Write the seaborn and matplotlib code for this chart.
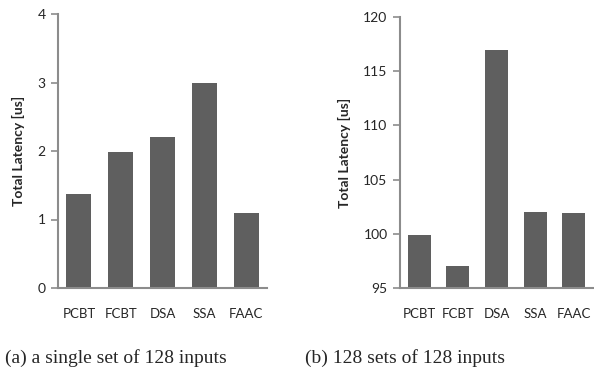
import matplotlib
matplotlib.use("Agg")
import matplotlib.pyplot as plt
import seaborn as sns
import pandas as pd

categories = ["PCBT", "FCBT", "DSA", "SSA", "FAAC"]
single_set = [1.37, 1.99, 2.2, 3.0, 1.09]
sets_128 = [99.9, 97.0, 117.0, 102.0, 101.9]
left_ticks = [0, 1, 2, 3, 4]
right_ticks = [95, 100, 105, 110, 115, 120]
ylabel = "Total Latency [us]"
captions = ["(a) a single set of 128 inputs", "(b) 128 sets of 128 inputs"]

sns.set_style("white")
plt.rcParams['font.family'] = ['Lato', 'DejaVu Sans']

W, H = 594, 378
fig = plt.figure(figsize=(W / 100, H / 100), dpi=100)

bar_color = "#5f5f5f"
axis_color = "#8c8c8c"

def make_ax(left, top, right, bottom):
    return fig.add_axes([left / W, 1 - bottom / H, (right - left) / W, (bottom - top) / H])

ax1 = make_ax(58, 14, 267, 288)
ax2 = make_ax(400, 17, 593, 288)

df1 = pd.DataFrame({"cat": categories, "val": single_set})
df2 = pd.DataFrame({"cat": categories, "val": sets_128})

for ax, df, ticks in [(ax1, df1, left_ticks), (ax2, df2, right_ticks)]:
    sns.barplot(data=df, x="cat", y="val", color=bar_color, saturation=1,
                width=0.6, ax=ax, edgecolor="none")
    ax.set_xlim(-0.5, 4.5)
    ax.set_ylim(ticks[0], ticks[-1])
    ax.set_yticks(ticks)
    ax.set_xlabel("")
    ax.set_ylabel(ylabel, fontsize=10, fontweight="bold", labelpad=9)
    for s in ["top", "right"]:
        ax.spines[s].set_visible(False)
    for s in ["left", "bottom"]:
        ax.spines[s].set_color(axis_color)
        ax.spines[s].set_linewidth(1.5)
    ax.tick_params(axis="y", which="major", left=True, length=5, width=1.2,
                   color=axis_color, labelsize=10, pad=4)
    ax.tick_params(axis="x", bottom=False, labelsize=9.5, pad=11)

fig.text(5 / W, 1 - 358 / H, captions[0], family="Liberation Serif", fontsize=14,
         ha="left", va="center")
fig.text(305 / W, 1 - 358 / H, captions[1], family="Liberation Serif", fontsize=14,
         ha="left", va="center")

fig.savefig("out.png", dpi=100)
